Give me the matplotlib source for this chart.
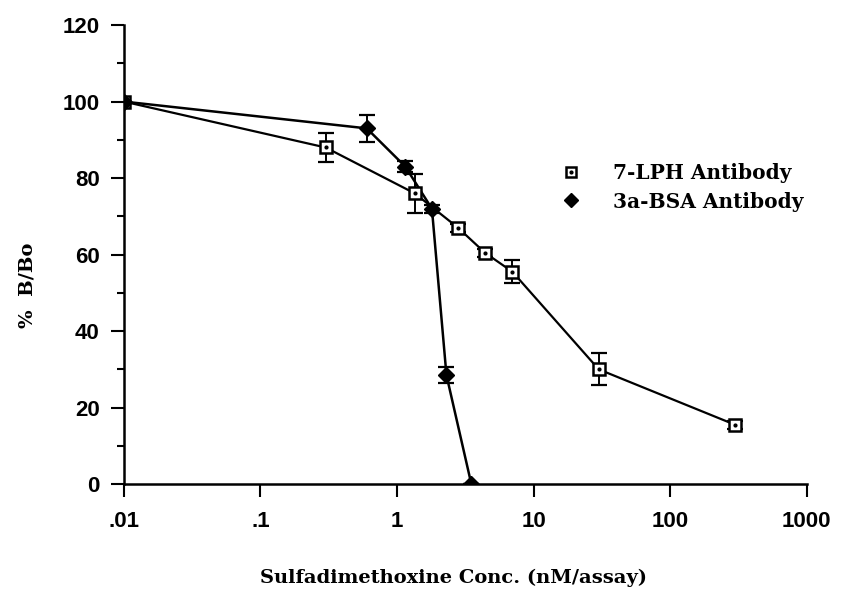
import matplotlib
matplotlib.use("Agg")
import matplotlib.pyplot as plt
from matplotlib.lines import Line2D

# 7-LPH antibody (open squares)
lph_conc = [0.01, 0.3, 1.35, 2.8, 4.4, 7.0, 30, 300]
lph_bbo = [100, 88, 76, 67, 60.5, 55.5, 30, 15.5]
lph_err = [0, 3.7, 5, 1, 1, 3, 4.2, 1]

# 3a-BSA antibody (filled diamonds)
bsa_conc = [0.01, 0.6, 1.15, 1.8, 2.3, 3.5]
bsa_bbo = [100, 93, 83, 72, 28.5, 0]
bsa_err = [0, 3.5, 1.5, 1, 2, 0]

xticks = [0.01, 0.1, 1, 10, 100, 1000]
xtick_labels = [".01", ".1", "1", "10", "100", "1000"]

tick_font = {"family": "Liberation Sans", "weight": "bold", "size": 16}
serif = {"family": "DejaVu Serif", "weight": "bold", "size": 14}

fig = plt.figure(figsize=(8.43, 5.97), dpi=100)
ax = fig.add_axes([0.147, 0.189, 0.81, 0.769])

ax.plot(lph_conc, lph_bbo, color="black", lw=1.6, zorder=2)
ax.errorbar(lph_conc, lph_bbo, yerr=lph_err, fmt="none", ecolor="black",
            elinewidth=1.4, capsize=5.5, capthick=1.6, zorder=3)
ax.plot(lph_conc, lph_bbo, ls="none", marker="s", ms=9, mfc="white",
        mec="black", mew=1.8, zorder=4)
ax.plot(lph_conc, lph_bbo, ls="none", marker="o", ms=2, color="black", zorder=5)

ax.plot(bsa_conc, bsa_bbo, color="black", lw=1.8, zorder=2)
ax.errorbar(bsa_conc, bsa_bbo, yerr=bsa_err, fmt="none", ecolor="black",
            elinewidth=1.4, capsize=5.5, capthick=1.6, zorder=3)
ax.plot(bsa_conc, bsa_bbo, ls="none", marker="D", ms=8, color="black", zorder=4)

ax.set_xscale("log")
ax.set_xlim(0.01, 1000)
ax.set_ylim(0, 120)
ax.set_xticks(xticks)
ax.set_xticklabels(xtick_labels, fontdict=tick_font)
ax.xaxis.set_minor_locator(matplotlib.ticker.NullLocator())
ax.set_yticks(range(0, 121, 20))
ax.set_yticklabels([str(v) for v in range(0, 121, 20)], fontdict=tick_font)
ax.set_yticks(range(10, 120, 20), minor=True)
ax.tick_params(axis="both", which="major", length=9.5, width=1.5, direction="out")
ax.tick_params(axis="x", which="major", pad=10)
ax.tick_params(axis="y", which="major", pad=8)
ax.tick_params(axis="y", which="minor", length=5, width=1.5, direction="out")

for s in ["top", "right"]:
    ax.spines[s].set_visible(False)
for s in ["left", "bottom"]:
    ax.spines[s].set_linewidth(1.8)

fig.text(453 / 843, 1 - 578 / 597, "Sulfadimethoxine Conc. (nM/assay)",
         ha="center", va="center", fontdict=serif)
fig.text(27 / 843, 1 - 285 / 597, "%  B/Bo", ha="center", va="center",
         rotation=90, fontdict=serif)

sq = Line2D([], [], ls="none", marker="s", ms=7.5, mfc="white", mec="black", mew=1.8)
dot = Line2D([], [], ls="none", marker="o", ms=2, color="black")
dia = Line2D([], [], ls="none", marker="D", ms=7, color="black")
ax.legend([(sq, dot), dia], ["7-LPH Antibody", "3a-BSA Antibody"],
          loc="upper left", bbox_to_anchor=(0.599, 0.738), frameon=False,
          prop={"family": "DejaVu Serif", "weight": "bold", "size": 14.5},
          handletextpad=1.1, labelspacing=0.4)

fig.savefig("out.png", dpi=100)
